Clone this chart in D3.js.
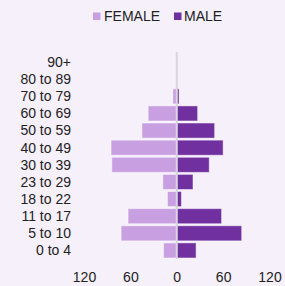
<!DOCTYPE html>
<html><head><meta charset="utf-8">
<script src="https://cdn.jsdelivr.net/npm/d3@7"></script>
<style>html,body{margin:0;padding:0;background:#f6f0fb;}svg{display:block;}</style>
</head><body>
<script>
const categories = ["90+","80 to 89","70 to 79","60 to 69","50 to 59","40 to 49","30 to 39","23 to 29","18 to 22","11 to 17","5 to 10","0 to 4"];
const female = [0,0,5,37,45,85,84,18,12,63,72,17];
const male = [0,0,3,27,49,60,42,21,6,58,84,25];
const tickValues = [-120,-60,0,60,120];
const seriesNames = ["FEMALE","MALE"];
const colors = ["#c8a0e1","#7030a0"];

const W=285,H=286;
const svg=d3.select("body").append("svg").attr("width",W).attr("height",H)
  .style("font-family","Liberation Sans, Arial, sans-serif");
svg.append("rect").attr("width",W).attr("height",H).attr("fill","#f6f0fb");

const x=d3.scaleLinear().domain([-120,120]).range([84,269.5]);
const y=d3.scaleBand().domain(categories).range([53.5,259]).paddingInner(0.12).paddingOuter(0.06);

const g=svg.append("g");
g.selectAll("rect.f").data(categories).join("rect")
  .attr("x",(d,i)=>x(-female[i])).attr("width",(d,i)=>x(0)-x(-female[i]))
  .attr("y",d=>y(d)).attr("height",y.bandwidth())
  .attr("fill",colors[0]).attr("stroke","rgba(255,255,255,0.45)").attr("stroke-width",1)
  .attr("display",(d,i)=>female[i]>0?null:"none");
g.selectAll("rect.m").data(categories).join("rect")
  .attr("x",x(0)).attr("width",(d,i)=>x(male[i])-x(0))
  .attr("y",d=>y(d)).attr("height",y.bandwidth())
  .attr("fill",colors[1]).attr("stroke","rgba(255,255,255,0.45)").attr("stroke-width",1)
  .attr("display",(d,i)=>male[i]>0?null:"none");

svg.append("line").attr("x1",x(0)).attr("x2",x(0)).attr("y1",52).attr("y2",259)
  .attr("stroke","#d9d5dc").attr("stroke-width",2);

// category labels
svg.selectAll("text.cat").data(categories).join("text")
  .attr("x",71).attr("y",d=>y(d)+y.bandwidth()/2).attr("dy","0.35em")
  .attr("text-anchor","end").attr("font-size",14).attr("fill","#222").text(d=>d);

// x axis
const xa=svg.append("g").attr("transform","translate(0,269)")
  .call(d3.axisBottom(x).tickValues(tickValues).tickSize(0).tickFormat(d=>Math.abs(d)));
xa.select(".domain").remove();
xa.selectAll("text").attr("font-size",14).attr("fill","#222").attr("font-family","Liberation Sans, Arial, sans-serif").attr("dy","0.71em");

// legend
const leg=[{x:93,tx:104},{x:174,tx:184}];
seriesNames.forEach((s,i)=>{
  svg.append("rect").attr("x",leg[i].x).attr("y",12.5).attr("width",7.5).attr("height",7.5).attr("fill",colors[i]);
  svg.append("text").attr("x",leg[i].tx).attr("y",20.7).attr("font-size",14).attr("fill","#222").text(s);
});
</script>
</body></html>
